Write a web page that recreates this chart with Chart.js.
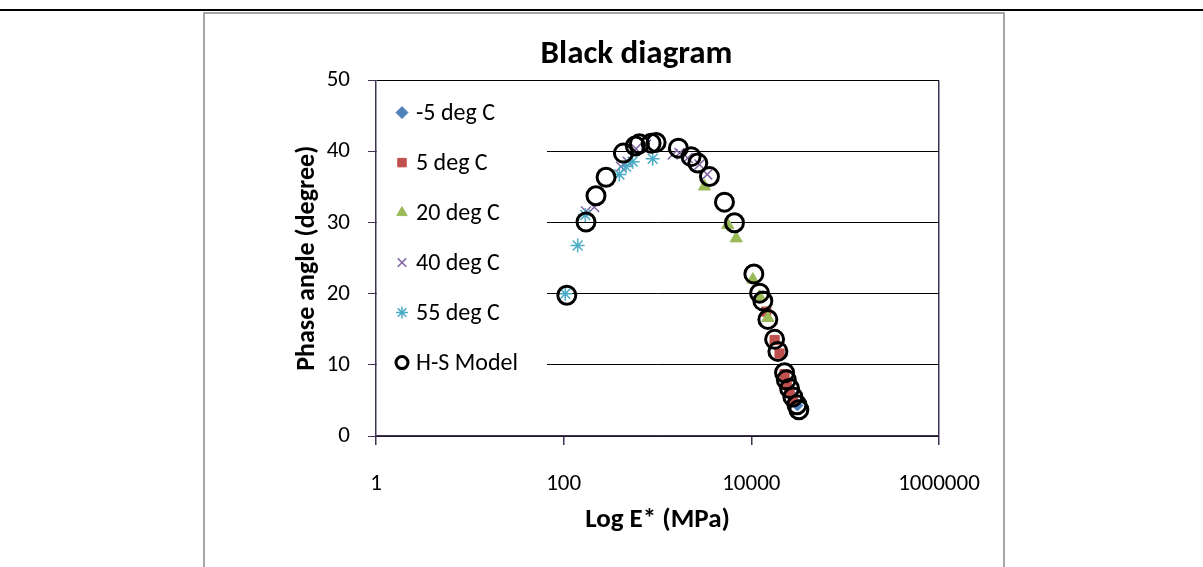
<!DOCTYPE html>
<html>
<head>
<meta charset="utf-8">
<script src="https://cdn.jsdelivr.net/npm/chart.js@4/dist/chart.umd.min.js"></script>
<style>
  html, body { margin: 0; padding: 0; background: #fff; }
  canvas { display: block; }
</style>
</head>
<body>
<canvas id="graficoBlack" width="1203" height="567"></canvas>
<script>
// values
var xTicks = [1, 100, 10000, 1000000];
var yTicks = [0, 10, 20, 30, 40, 50];

var seriesNames = ['-5 deg C', '5 deg C', '20 deg C', '40 deg C', '55 deg C', 'H-S Model'];

var m5X = [24500, 27000, 29500, 31000];
var m5Y = [7.0, 5.8, 4.8, 4.3];

var p5X = [14400, 17700, 20000, 22600, 23800, 25500, 27700];
var p5Y = [17.5, 13.5, 11.6, 8.7, 7.5, 6.3, 5.2];

var p20X = [3170, 5610, 6900, 10370, 12240, 15000];
var p20Y = [35.1, 29.7, 27.8, 22.0, 19.6, 16.6];

var p40X = [173, 212, 408, 481, 589, 755, 1452, 1714, 2100, 2800, 3390];
var p40Y = [31.6, 32.2, 37.9, 38.6, 40.4, 41.0, 39.6, 39.8, 39.1, 38.2, 36.8];

var p55X = [104, 141, 170, 392, 462, 543, 889];
var p55Y = [20.0, 26.8, 31.1, 36.8, 37.9, 38.6, 39.0];

var hsX = [108, 173, 221, 283, 433, 581, 641, 855, 966, 1671, 2280, 2690, 3580, 5170, 6610,
           10640, 12240, 13270, 15000, 17700, 19190, 22600, 23580, 25570, 27740, 30600, 32100];
var hsY = [19.8, 30.1, 33.8, 36.4, 39.8, 40.8, 41.1, 41.2, 41.3, 40.5, 39.3, 38.4, 36.5, 32.9, 30.0,
           22.8, 20.1, 19.0, 16.4, 13.6, 11.9, 8.9, 7.9, 6.7, 5.5, 4.4, 3.7];

function pares(xs, ys) {
    return xs.map(function (x, i) { return { x: x, y: ys[i] }; });
}

var fonte = "Carlito, Lato, 'Liberation Sans', sans-serif";
var roxo = '#3F3151';

// frame around the whole chart + top rule
var moldura = {
    id: 'moldura',
    beforeDraw: function (chart) {
        var c = chart.ctx;
        c.save();
        c.fillStyle = '#fff';
        c.fillRect(0, 0, chart.width, chart.height);
        c.fillStyle = '#000';
        c.fillRect(0, 9, chart.width, 2);
        c.strokeStyle = '#A6A6A6';
        c.lineWidth = 2;
        c.strokeRect(204, 13, 800, 560);
        c.restore();
    }
};

// legend drawn inside plot area, like the Excel one
var legenda = {
    id: 'legenda',
    afterDraw: function (chart) {
        var c = chart.ctx;
        var area = chart.chartArea;
        c.save();
        c.fillStyle = '#fff';
        c.fillRect(area.left + 1, area.top + 2, 170, area.bottom - area.top - 3);
        c.font = '24px ' + fonte;
        c.textBaseline = 'middle';
        chart.data.datasets.forEach(function (ds, i) {
            var y = area.top + 32 + i * 50;
            var x = area.left + 26;
            c.fillStyle = ds.backgroundColor;
            c.strokeStyle = ds.borderColor;
            c.lineWidth = ds.borderWidth;
            Chart.helpers.drawPoint(c, {
                pointStyle: ds.pointStyle,
                radius: ds.legendRadius,
                borderWidth: ds.borderWidth,
                rotation: 0
            }, x, y);
            c.fillStyle = '#000';
            c.fillText(ds.label, x + 14, y + 1);
        });
        c.restore();
    }
};

var configBlack = {
    type: 'scatter',
    data: {
        datasets: [{
            label: seriesNames[0],
            data: pares(m5X, m5Y),
            pointStyle: 'rectRot',
            pointRadius: 5.5,
            legendRadius: 6,
            backgroundColor: '#4F81BD',
            borderColor: '#4F81BD',
            borderWidth: 1,
            order: 5
        }, {
            label: seriesNames[1],
            data: pares(p5X, p5Y),
            pointStyle: 'rect',
            pointRadius: 6.5,
            legendRadius: 6,
            backgroundColor: '#C0504D',
            borderColor: '#C0504D',
            borderWidth: 1,
            order: 4
        }, {
            label: seriesNames[2],
            data: pares(p20X, p20Y),
            pointStyle: 'triangle',
            pointRadius: 7,
            legendRadius: 6,
            backgroundColor: '#9BBB59',
            borderColor: '#9BBB59',
            borderWidth: 1,
            order: 3
        }, {
            label: seriesNames[3],
            data: pares(p40X, p40Y),
            pointStyle: 'crossRot',
            pointRadius: 7,
            legendRadius: 6,
            backgroundColor: '#8064A2',
            borderColor: '#8064A2',
            borderWidth: 1.5,
            order: 2
        }, {
            label: seriesNames[4],
            data: pares(p55X, p55Y),
            pointStyle: 'star',
            pointRadius: 7,
            legendRadius: 6,
            backgroundColor: '#4BACC6',
            borderColor: '#4BACC6',
            borderWidth: 1.5,
            order: 1
        }, {
            label: seriesNames[5],
            data: pares(hsX, hsY),
            pointStyle: 'circle',
            pointRadius: 9,
            legendRadius: 6,
            backgroundColor: 'rgba(0,0,0,0)',
            borderColor: '#000',
            borderWidth: 3,
            order: 0
        }]
    },
    options: {
        responsive: false,
        animation: false,
        layout: {
            padding: { left: 288, right: 218, top: 0, bottom: 0 }
        },
        plugins: {
            legend: { display: false },
            tooltip: { enabled: false },
            title: {
                display: true,
                text: 'Black diagram',
                color: '#000',
                font: { family: fonte, size: 33, weight: 'bold', lineHeight: 1.2 },
                padding: { top: 35, bottom: 6 }
            }
        },
        scales: {
            x: {
                type: 'logarithmic',
                min: xTicks[0],
                max: xTicks[xTicks.length - 1],
                afterBuildTicks: function (scale) {
                    scale.ticks = xTicks.map(function (v) { return { value: v }; });
                },
                afterFit: function (scale) { scale.height = 131; },
                ticks: {
                    color: '#000',
                    font: { family: fonte, size: 23 },
                    padding: 25,
                    maxRotation: 0,
                    autoSkip: false,
                    callback: function (v) { return String(v); }
                },
                grid: {
                    color: function (ctx) {
                        return ctx.tick && ctx.tick.value === xTicks[xTicks.length - 1] ? roxo : 'rgba(0,0,0,0)';
                    },
                    tickColor: roxo,
                    tickLength: 9,
                    lineWidth: 1.5
                },
                border: { color: roxo, width: 1.5 },
                title: {
                    display: true,
                    text: 'Log E* (MPa)',
                    color: '#000',
                    font: { family: fonte, size: 27, weight: 'bold', lineHeight: 1.2 },
                    padding: { top: 31, bottom: 31 }
                }
            },
            y: {
                min: yTicks[0],
                max: yTicks[yTicks.length - 1],
                afterBuildTicks: function (scale) {
                    scale.ticks = yTicks.map(function (v) { return { value: v }; });
                },
                afterFit: function (scale) { scale.width = 88; },
                ticks: {
                    color: '#000',
                    font: { family: fonte, size: 23 },
                    padding: 18
                },
                grid: {
                    color: '#000',
                    tickColor: roxo,
                    tickLength: 8,
                    lineWidth: 1
                },
                border: { color: roxo, width: 1.5 },
                title: {
                    display: true,
                    text: 'Phase angle (degree)',
                    color: '#000',
                    font: { family: fonte, size: 26, weight: 'bold', lineHeight: 1.2 },
                    padding: { top: 4, bottom: 4 }
                }
            },
            // empty right gutter so the title centres like the original
            gutter: {
                position: 'right',
                display: true,
                afterFit: function (scale) { scale.width = 46; },
                ticks: { display: false },
                grid: { display: false },
                border: { display: false }
            }
        }
    },
    plugins: [moldura, legenda]
};

window.onload = function () {
    var ctx = document.getElementById('graficoBlack').getContext('2d');
    window.graficoBlack = new Chart(ctx, configBlack);
};
</script>
</body>
</html>
